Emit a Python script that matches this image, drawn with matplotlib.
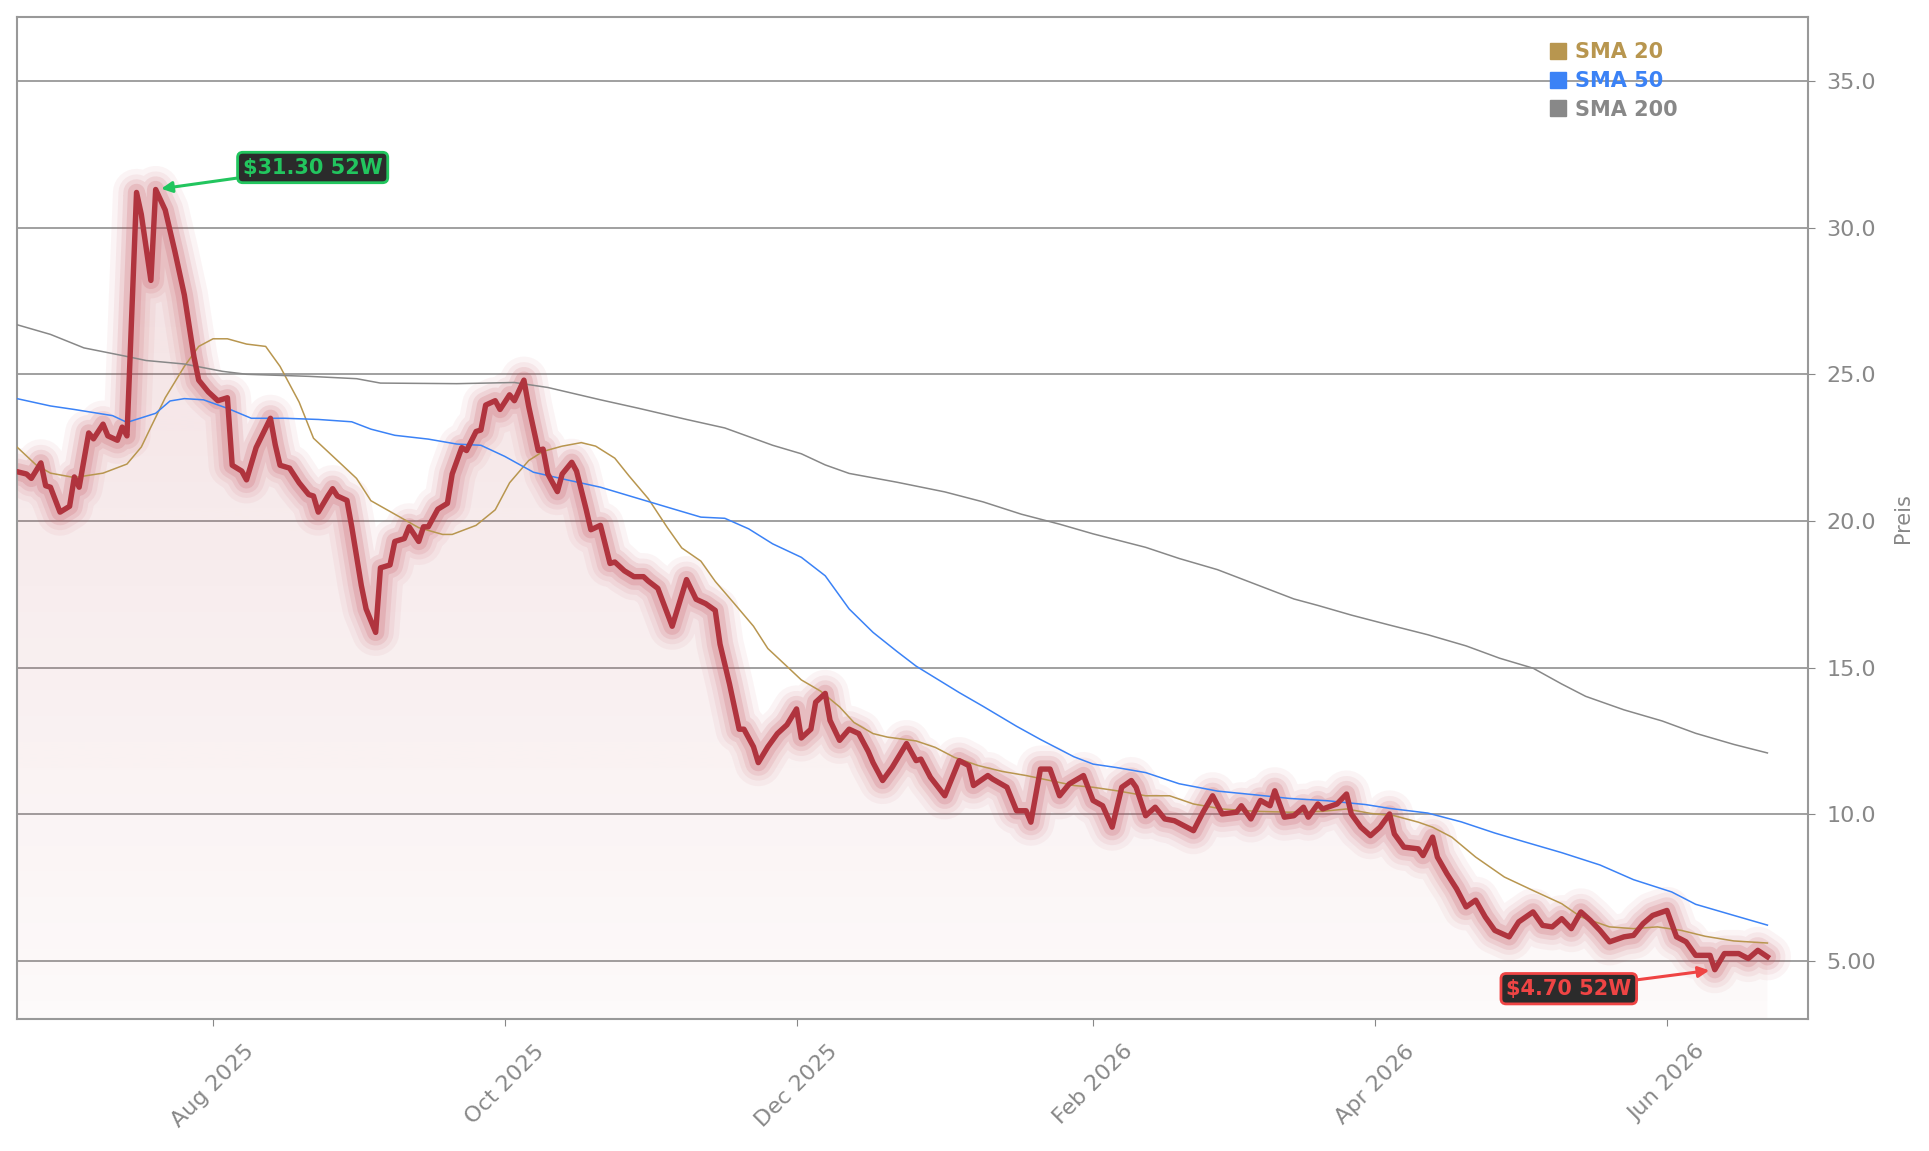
import numpy as np
import pandas as pd
import matplotlib
matplotlib.use('Agg')
import matplotlib.pyplot as plt
import matplotlib.dates as mdates
import matplotlib.colors as mcolors
from matplotlib.ticker import FormatStrFormatter
from matplotlib.lines import Line2D
from matplotlib.patches import PathPatch

# ── Daten (Tage seit START) ──────────────────────────────────────────
START = pd.Timestamp('2025-06-21')

price_day = [0, 2, 3, 5, 6, 7, 9, 11, 12, 13, 15, 16, 18, 19, 21, 22, 23, 25, 26, 28,
             29, 31, 33, 35, 37, 38, 40, 42, 44, 45, 47, 48, 50, 53, 54, 55, 57, 59, 61, 62,
             63, 65, 66, 67, 69, 70, 72, 73, 75, 76, 78, 79, 81, 82, 84, 85, 86, 88, 90, 91,
             93, 94, 96, 97, 98, 100, 101, 103, 104, 106, 107, 109, 110, 111, 113, 114, 116, 117, 119, 120,
             122, 124, 125, 127, 129, 131, 132, 134, 137, 140, 142, 144, 146, 147, 149, 151, 152, 154, 155, 157,
             159, 161, 163, 164, 166, 167, 169, 170, 172, 174, 176, 178, 179, 181, 183, 186, 188, 189, 191, 194,
             197, 199, 200, 203, 204, 207, 209, 211, 212, 214, 216, 218, 220, 223, 225, 227, 229, 231, 233, 234,
             236, 238, 240, 242, 246, 248, 250, 252, 255, 256, 258, 260, 262, 263, 265, 267, 269, 270, 272, 273,
             276, 278, 279, 281, 283, 285, 287, 288, 290, 293, 294, 296, 297, 299, 301, 303, 305, 307, 309, 312,
             314, 317, 319, 321, 323, 325, 327, 329, 331, 333, 336, 338, 340, 342, 345, 347, 349, 351, 354, 355,
             357, 360, 362, 364, 366]
price = [21.68, 21.6, 21.45, 21.98, 21.2, 21.15, 20.3, 20.5, 21.5, 21.15, 23.0, 22.8, 23.3, 22.9, 22.75, 23.2, 22.9, 31.2, 30.45, 28.2,
         31.30, 30.6, 29.2, 27.7, 25.6, 24.8, 24.4, 24.1, 24.2, 21.9, 21.7, 21.4, 22.5, 23.5, 22.6, 21.9, 21.8, 21.3, 20.9, 20.85,
         20.3, 20.85, 21.1, 20.85, 20.7, 19.8, 17.8, 17.0, 16.2, 18.4, 18.5, 19.3, 19.4, 19.8, 19.3, 19.8, 19.8, 20.4, 20.6, 21.6,
         22.5, 22.4, 23.05, 23.1, 23.95, 24.1, 23.8, 24.3, 24.1, 24.8, 23.9, 22.4, 22.45, 21.6, 21.0, 21.6, 22.0, 21.7, 20.4, 19.7,
         19.85, 18.55, 18.6, 18.3, 18.1, 18.1, 17.95, 17.7, 16.41, 18.0, 17.33, 17.18, 16.95, 15.8, 14.43, 12.9, 12.9, 12.3, 11.76, 12.3,
         12.75, 13.05, 13.59, 12.6, 12.9, 13.82, 14.12, 13.2, 12.52, 12.9, 12.75, 12.14, 11.76, 11.15, 11.6, 12.41, 11.83, 11.88, 11.26, 10.63,
         11.83, 11.66, 10.98, 11.32, 11.2, 10.92, 10.12, 10.12, 9.73, 11.54, 11.54, 10.63, 11.03, 11.32, 10.47, 10.29, 9.56, 10.92, 11.15, 10.92,
         9.95, 10.24, 9.84, 9.78, 9.44, 10.07, 10.63, 10.01, 10.07, 10.29, 9.84, 10.47, 10.29, 10.8, 9.9, 9.95, 10.24, 9.9, 10.35, 10.18,
         10.35, 10.69, 10.01, 9.56, 9.27, 9.56, 10.01, 9.33, 8.88, 8.82, 8.59, 9.22, 8.54, 7.97, 7.46, 6.84, 7.07, 6.5, 6.04, 5.82,
         6.33, 6.67, 6.21, 6.16, 6.44, 6.1, 6.67, 6.38, 6.04, 5.65, 5.82, 5.87, 6.27, 6.55, 6.72, 5.82, 5.65, 5.19, 5.19, 4.70,
         5.25, 5.25, 5.08, 5.36, 5.14]

sma20_day = [0, 4, 7, 12, 18, 23, 26, 28, 31, 35, 38, 41, 44, 48, 52, 55, 59, 62, 67, 71,
             74, 79, 84, 89, 91, 96, 100, 103, 107, 110, 114, 118, 121, 125, 128, 132, 136, 139, 143, 146,
             150, 154, 157, 161, 164, 168, 172, 175, 179, 182, 188, 192, 196, 201, 206, 211, 216, 221, 225, 230,
             236, 241, 246, 252, 259, 266, 273, 278, 283, 288, 293, 296, 300, 305, 311, 317, 323, 327, 333, 338,
             343, 348, 353, 359, 366]
sma20 = [22.52, 21.91, 21.63, 21.48, 21.63, 21.94, 22.52, 23.2, 24.2, 25.27, 25.95, 26.21, 26.21, 26.03, 25.95, 25.27, 24.05, 22.82, 22.06, 21.45,
         20.69, 20.23, 19.77, 19.54, 19.54, 19.85, 20.38, 21.3, 22.06, 22.37, 22.55, 22.67, 22.55, 22.14, 21.53, 20.76, 19.77, 19.08, 18.63, 17.94,
         17.18, 16.41, 15.65, 15.04, 14.58, 14.2, 13.66, 13.13, 12.75, 12.63, 12.5, 12.28, 11.94, 11.66, 11.46, 11.32, 11.15, 10.98, 10.92, 10.8,
         10.63, 10.63, 10.35, 10.18, 10.1, 10.07, 10.1, 10.18, 10.03, 9.95, 9.73, 9.56, 9.22, 8.54, 7.86, 7.4, 6.95, 6.5, 6.16, 6.1,
         6.16, 6.04, 5.84, 5.68, 5.61]

sma50_day = [0, 7, 12, 20, 23, 29, 32, 35, 39, 44, 49, 56, 63, 70, 74, 79, 86, 92, 97, 102,
             108, 115, 122, 130, 137, 143, 148, 153, 158, 164, 169, 174, 179, 184, 188, 192, 197, 202, 209, 214,
             221, 225, 230, 236, 243, 251, 259, 266, 274, 282, 287, 295, 302, 309, 315, 323, 331, 338, 346, 351,
             359, 366]
sma50 = [24.17, 23.92, 23.8, 23.59, 23.36, 23.67, 24.09, 24.17, 24.13, 23.84, 23.5, 23.5, 23.46, 23.38, 23.13, 22.92, 22.79, 22.62, 22.58, 22.2,
         21.66, 21.4, 21.15, 20.76, 20.42, 20.13, 20.09, 19.73, 19.22, 18.76, 18.13, 17.0, 16.2, 15.55, 15.05, 14.65, 14.15, 13.68, 13.0, 12.55,
         11.96, 11.71, 11.59, 11.42, 11.04, 10.79, 10.66, 10.54, 10.46, 10.33, 10.2, 10.04, 9.74, 9.36, 9.07, 8.69, 8.27, 7.77, 7.35, 6.93,
         6.55, 6.22]

sma200_day = [0, 7, 14, 22, 27, 35, 43, 48, 61, 71, 76, 92, 104, 111, 122, 130, 140, 148, 158, 164,
              169, 174, 184, 194, 202, 210, 218, 225, 236, 243, 251, 259, 267, 272, 279, 287, 295, 303, 310, 317,
              323, 328, 336, 344, 351, 359, 366]
sma200 = [26.69, 26.36, 25.9, 25.64, 25.47, 25.35, 25.1, 25.0, 24.93, 24.85, 24.7, 24.68, 24.72, 24.55, 24.13, 23.84, 23.46, 23.17, 22.58, 22.29,
          21.91, 21.62, 21.32, 20.99, 20.65, 20.23, 19.89, 19.56, 19.1, 18.72, 18.34, 17.84, 17.34, 17.12, 16.79, 16.45, 16.12, 15.74, 15.32, 14.98,
          14.44, 14.02, 13.56, 13.18, 12.76, 12.38, 12.09]

# ── Stil ────────────────────────────────────────────────────────────
LINE_C   = '#b0343e'
GLOW_C   = '#c4505c'
SMA_C    = ['#b8964f', '#3b82f6', '#888888']
SMA_LBL  = ['SMA 20', 'SMA 50', 'SMA 200']
GRAY     = '#888888'
Y_MIN, Y_MAX = 3.02, 37.18


def to_dates(days):
    return START + pd.to_timedelta(days, unit='D')


p_dates = to_dates(price_day)
p_vals  = np.array(price)

fig = plt.figure(figsize=(19.29, 11.51), dpi=100)
ax = fig.add_axes([0.0088, 0.1147, 0.9285, 0.8705])

# Gradient-Fläche unter der Kurve
poly = ax.fill_between(p_dates, p_vals, Y_MIN, color='none', lw=0)
clip = PathPatch(poly.get_paths()[0], transform=ax.transData, facecolor='none', edgecolor='none')
ax.add_patch(clip)
grad = np.zeros((256, 1, 4))
grad[..., :3] = mcolors.to_rgb(LINE_C)
grad[..., 3] = np.linspace(0.025, 0.15, 256)[:, None]
x0, x1 = mdates.date2num(p_dates[0]), mdates.date2num(p_dates[-1])
im = ax.imshow(grad, extent=[x0, x1, Y_MIN, p_vals.max()], origin='lower',
               aspect='auto', zorder=1, interpolation='bilinear')
im.set_clip_path(clip)

# Glow + Preislinie
for lw, a in [(34, 0.06), (26, 0.08), (19, 0.12), (12.5, 0.18)]:
    ax.plot(p_dates, p_vals, color=GLOW_C, lw=lw, alpha=a, zorder=2,
            solid_joinstyle='round', solid_capstyle='round')
ax.plot(p_dates, p_vals, color=LINE_C, lw=3.9, zorder=4, solid_joinstyle='round')

for d, v, c in [(sma20_day, sma20, SMA_C[0]), (sma50_day, sma50, SMA_C[1]), (sma200_day, sma200, SMA_C[2])]:
    ax.plot(to_dates(d), v, color=c, lw=1.1, zorder=3)

# 52W Hoch / Tief
i_hi, i_lo = int(p_vals.argmax()), int(p_vals.argmin())
for i, off, c in [(i_hi, (157, 22), '#22c55e'), (i_lo, (-146, -19), '#ef4444')]:
    ax.annotate(f'${p_vals[i]:.2f} 52W', xy=(p_dates[i], p_vals[i]), xytext=off,
                textcoords='offset pixels', ha='center', va='center',
                color=c, fontsize=15, fontweight='bold', zorder=6,
                bbox=dict(boxstyle='round,pad=0.25', fc='#2b2b2b', ec=c, lw=2),
                arrowprops=dict(arrowstyle='-|>', color=c, lw=2.2, mutation_scale=16,
                                shrinkA=0, shrinkB=4))

# Achsen
ax.set_ylim(Y_MIN, Y_MAX)
ax.set_xlim(START, START + pd.Timedelta(days=374.5))
ax.yaxis.tick_right()
ax.yaxis.set_label_position('right')
ax.yaxis.set_major_formatter(FormatStrFormatter('%#.3g'))
ax.set_ylabel('Preis', color=GRAY, fontsize=15, labelpad=12)
ax.xaxis.set_major_locator(mdates.MonthLocator(bymonth=[2, 4, 6, 8, 10, 12]))
ax.xaxis.set_major_formatter(mdates.DateFormatter('%b %Y'))
ax.tick_params(axis='x', colors=GRAY, labelsize=16, rotation=45, length=5, pad=11)
ax.tick_params(axis='y', colors=GRAY, labelsize=16, length=5, pad=8)
ax.yaxis.grid(True, color='#999999', lw=1.3)
ax.set_axisbelow(True)
for s in ax.spines.values():
    s.set_color('#999999')
    s.set_linewidth(1.5)

handles = [Line2D([], [], marker='s', ls='none', color=c, markersize=11) for c in SMA_C]
leg = ax.legend(handles, SMA_LBL, loc='upper left', bbox_to_anchor=(0.8555, 0.975),
                frameon=False, prop={'weight': 'bold', 'size': 15}, handlelength=0.8,
                handletextpad=0.45, labelspacing=0.42, borderpad=0, borderaxespad=0)
for t, c in zip(leg.get_texts(), SMA_C):
    t.set_color(c)

fig.savefig('out.png', dpi=100)
